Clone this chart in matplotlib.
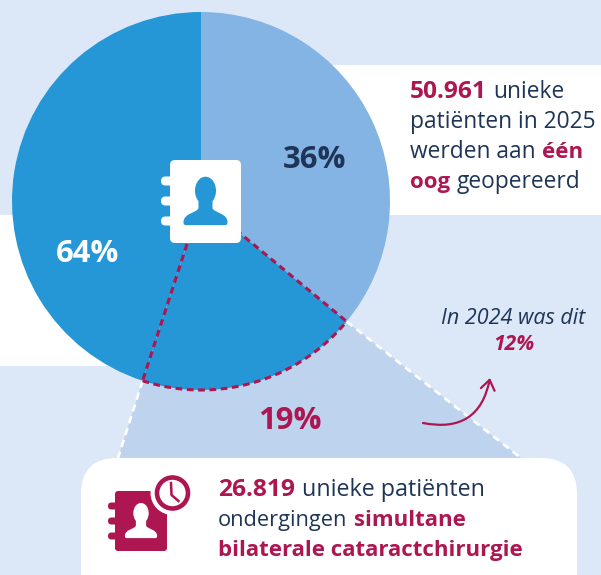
import numpy as np
import matplotlib
matplotlib.use("Agg")
import matplotlib.pyplot as plt
from matplotlib.patches import FancyBboxPatch, Polygon, Ellipse, Circle, FancyArrowPatch, Rectangle, PathPatch
from matplotlib.path import Path

labels = ["36%", "19%", "64%"]
shares = [36, 19, 45]
callout_prev = "12%"

BG = "#DCE8F7"; LIGHT = "#83B4E3"; BLUE = "#2596D6"; PALE = "#BDD3EE"
CRIM = "#AD1650"; NAVY = "#1F3557"
FONT = "Open Sans"
W, H = 601, 575
def Y(p): return H - p
def fs(px): return px * 0.72

plt.rcParams['font.family'] = [FONT, 'DejaVu Sans']
fig = plt.figure(figsize=(W/100, H/100), dpi=100, facecolor=BG)
ax = fig.add_axes([0, 0, 1, 1])

# bands
ax.add_patch(Rectangle((300, Y(215)), 301, 150, fc="white", ec="none", zorder=1))
ax.add_patch(Rectangle((0, Y(366)), 110, 151, fc="white", ec="none", zorder=1))

cx, cy, R = 201, Y(201), 189
wedges, _ = ax.pie(shares, colors=[LIGHT, BLUE, BLUE], startangle=90, counterclock=False,
                   center=(cx, cy), radius=R, frame=True,
                   wedgeprops=dict(linewidth=0))
for w in wedges:
    w.set_zorder(3)
ax.set_xlim(0, W); ax.set_ylim(0, H); ax.set_aspect("equal"); ax.axis("off")

def pt(a, r=R): return (cx + r*np.cos(np.radians(a)), cy + r*np.sin(np.radians(a)))
p1, p2 = pt(wedges[1].theta1), pt(wedges[1].theta2)
if p1[0] < p2[0]:
    p1, p2 = p2, p1

# callout
foot_r, foot_l = (521, Y(458)), (118, Y(458))
ax.add_patch(Polygon([p1, foot_r, foot_l, p2], fc=PALE, ec="none", zorder=2))
for a, b in [(p1, foot_r), (p2, foot_l)]:
    ax.plot([a[0], b[0]], [a[1], b[1]], color="white", lw=1.9, ls=(0, (2.8, 1.9)), zorder=2.5)

# dashed slice outline
ds = (0, (2.2, 1.5))
thetas = np.linspace(wedges[1].theta1, wedges[1].theta2, 80)
ax.plot(cx + R*np.cos(np.radians(thetas)), cy + R*np.sin(np.radians(thetas)),
        color=CRIM, lw=2.2, ls=ds, zorder=4)
for p in (p1, p2):
    ax.plot([cx, p[0]], [cy, p[1]], color=CRIM, lw=2.2, ls=ds, zorder=4)

# address-book icon
def book(x0, y0, w, h, color, fg, rad, tab_x, tab_w, tab_ys, tab_h, z):
    for ty in tab_ys:
        ax.add_patch(FancyBboxPatch((tab_x + tab_h/2, Y(ty)), tab_w - tab_h, 0.01,
                     boxstyle=f"round,pad={tab_h/2}", fc=color, ec="none", zorder=z))
    ax.add_patch(FancyBboxPatch((x0 + rad, Y(y0 + h) + rad), w - 2*rad, h - 2*rad,
                 boxstyle=f"round,pad={rad}", fc=color, ec="none", zorder=z))
    ux = x0 + w*0.5; s = w / 71
    ax.add_patch(Ellipse((ux, Y(y0 + 0.37*h)), 21*s, 28*s, fc=fg, ec="none", zorder=z+0.1))
    bottom = y0 + 0.785*h
    shape = [((-20, 0), Path.MOVETO), ((-22, 0), Path.CURVE3), ((-22, -3), Path.CURVE3),
             ((-22, -12), Path.CURVE4), ((-9, -12), Path.CURVE4), ((-7, -17), Path.CURVE4),
             ((-7, -24), Path.LINETO), ((7, -24), Path.LINETO), ((7, -17), Path.LINETO),
             ((9, -12), Path.CURVE4), ((22, -12), Path.CURVE4), ((22, -3), Path.CURVE4),
             ((22, 0), Path.CURVE3), ((20, 0), Path.CURVE3), ((-20, 0), Path.CLOSEPOLY)]
    vs = [(ux + v[0]*s, Y(bottom + v[1]*s)) for v, _ in shape]
    ax.add_patch(PathPatch(Path(vs, [c for _, c in shape]), fc=fg, ec="none", zorder=z+0.1))

book(170, 160, 71, 83, "white", BLUE, 5, 161, 14, [181, 201, 221], 9, 6)

# pie labels
ax.text(314.5, Y(160), labels[0], fontsize=fs(31), fontweight="bold", color=NAVY, ha="center", va="center", zorder=7)
ax.text(88, Y(254), labels[2], fontsize=fs(31), fontweight="bold", color="white", ha="center", va="center", zorder=7)
ax.text(289.5, Y(421), labels[1], fontsize=fs(31), fontweight="bold", color=CRIM, ha="center", va="center", zorder=7)

# white card
rad = 36
ax.add_patch(FancyBboxPatch((81 + rad, Y(610) + rad), 496 - 2*rad, 152 - 2*rad,
             boxstyle=f"round,pad={rad}", fc="white", ec="none", zorder=5))

# crimson icon
book(115, 491, 52, 60, CRIM, "white", 3, 108, 12, [506, 521, 536], 7, 6)
ax.add_patch(Circle((172.5, Y(493)), 22, fc="white", ec="none", zorder=6.5))
ax.add_patch(Circle((172.5, Y(493)), 15.5, fc="white", ec=CRIM, lw=3.3, zorder=6.6))
ax.plot([171, 171.5, 178.5], [Y(483), Y(495), Y(501)], color=CRIM, lw=1.8, zorder=6.7)

# rich text
fig.canvas.draw()
rnd = fig.canvas.get_renderer()
def rich(x, base, runs):
    for s, col, bold, px in runs:
        t = ax.text(x, Y(base), s, fontsize=fs(px), color=col, fontweight="bold" if bold else "normal",
                    ha="left", va="baseline", zorder=7)
        x = x + t.get_window_extent(rnd).width + 6.5

reg, bld, num = 22.7, 22.3, 24.5
rich(410, 98, [("50.961", CRIM, True, num), ("unieke", NAVY, False, reg)])
rich(410, 128, [("patiënten in 2025", NAVY, False, reg)])
rich(410, 158, [("werden aan", NAVY, False, reg), ("één", CRIM, True, bld)])
rich(410, 188, [("oog", CRIM, True, bld), ("geopereerd", NAVY, False, reg)])

rich(218, 496, [("26.819", CRIM, True, num), ("unieke patiënten", NAVY, False, 23.2)])
rich(218, 526, [("ondergingen", NAVY, False, 21.8), ("simultane", CRIM, True, bld)])
rich(218, 556, [("bilaterale cataractchirurgie", CRIM, True, bld)])

ax.text(513, Y(319), "In 2024 was dit", fontsize=fs(21.5), style="italic", color=NAVY, ha="center", va="center", zorder=7)
ax.text(514, Y(345), callout_prev, fontsize=fs(21), style="italic", fontweight="bold", color=CRIM, ha="center", va="center", zorder=7)

# arrow
ax.add_patch(FancyArrowPatch((423, Y(423)), (490, Y(378)), connectionstyle="arc3,rad=0.5",
             arrowstyle="->,head_length=7,head_width=5", color=CRIM, lw=1.6, zorder=7, shrinkA=0, shrinkB=0))

fig.savefig("out.png", dpi=100, facecolor=BG)
